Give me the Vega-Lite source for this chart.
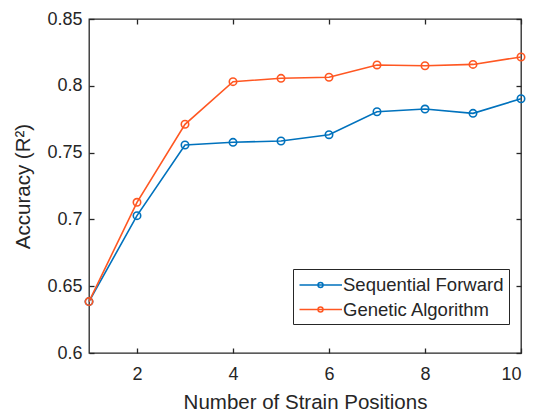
{
  "$schema": "https://vega.github.io/schema/vega-lite/v6.json",
  "width": 432,
  "height": 334,
  "autosize": {"type": "none"},
  "padding": {"left": 89, "top": 19, "right": 12, "bottom": 59},
  "background": "white",
  "config": {
    "font": "Liberation Sans",
    "view": {"stroke": "#262626", "strokeWidth": 1.3},
    "axis": {
      "domain": false,
      "grid": false,
      "tickColor": "#262626",
      "tickWidth": 1.3,
      "tickSize": -5,
      "labelColor": "#262626",
      "labelFont": "Liberation Sans",
      "labelFontSize": 18,
      "titleColor": "#262626",
      "titleFont": "Liberation Sans",
      "titleFontSize": 20.5,
      "titleFontWeight": "normal"
    }
  },
  "data": {
    "values": [
      {"positions": 1, "accuracy": 0.6385, "method": "Sequential Forward"},
      {"positions": 2, "accuracy": 0.7028, "method": "Sequential Forward"},
      {"positions": 3, "accuracy": 0.7557, "method": "Sequential Forward"},
      {"positions": 4, "accuracy": 0.7577, "method": "Sequential Forward"},
      {"positions": 5, "accuracy": 0.7587, "method": "Sequential Forward"},
      {"positions": 6, "accuracy": 0.7634, "method": "Sequential Forward"},
      {"positions": 7, "accuracy": 0.7806, "method": "Sequential Forward"},
      {"positions": 8, "accuracy": 0.7826, "method": "Sequential Forward"},
      {"positions": 9, "accuracy": 0.7794, "method": "Sequential Forward"},
      {"positions": 10, "accuracy": 0.7903, "method": "Sequential Forward"},
      {"positions": 1, "accuracy": 0.6385, "method": "Genetic Algorithm"},
      {"positions": 2, "accuracy": 0.7128, "method": "Genetic Algorithm"},
      {"positions": 3, "accuracy": 0.7712, "method": "Genetic Algorithm"},
      {"positions": 4, "accuracy": 0.8031, "method": "Genetic Algorithm"},
      {"positions": 5, "accuracy": 0.8056, "method": "Genetic Algorithm"},
      {"positions": 6, "accuracy": 0.8064, "method": "Genetic Algorithm"},
      {"positions": 7, "accuracy": 0.8156, "method": "Genetic Algorithm"},
      {"positions": 8, "accuracy": 0.8150, "method": "Genetic Algorithm"},
      {"positions": 9, "accuracy": 0.8160, "method": "Genetic Algorithm"},
      {"positions": 10, "accuracy": 0.8216, "method": "Genetic Algorithm"}
    ]
  },
  "layer": [
    {
      "mark": {"type": "line", "strokeWidth": 1.6},
      "encoding": {
        "x": {
          "field": "positions",
          "type": "quantitative",
          "scale": {"domain": [1, 10], "nice": false},
          "axis": {"orient": "bottom", "values": [2, 4, 6, 8, 10], "labelPadding": 17, "title": "Number of Strain Positions", "titlePadding": 9}
        },
        "y": {
          "field": "accuracy",
          "type": "quantitative",
          "scale": {"domain": [0.6, 0.85], "nice": false, "zero": false},
          "axis": {"orient": "left", "values": [0.6, 0.65, 0.7, 0.75, 0.8, 0.85], "format": ".2~f", "labelPadding": 12, "title": "Accuracy (R²)", "titlePadding": 13}
        },
        "color": {
          "field": "method",
          "type": "nominal",
          "sort": ["Sequential Forward", "Genetic Algorithm"],
          "scale": {"domain": ["Sequential Forward", "Genetic Algorithm"], "range": ["#0072BD", "#FF5722"]},
          "legend": {
            "title": null,
            "orient": "none",
            "legendX": 204,
            "legendY": 250,
            "direction": "vertical",
            "strokeColor": "#262626",
            "fillColor": "white",
            "padding": 5,
            "rowPadding": 3.5,
            "symbolType": "M-0.95,0L3.3,0M1.4,0A0.25,0.25,0,1,1,0.9,0A0.25,0.25,0,1,1,1.4,0",
            "symbolSize": 400,
            "symbolStrokeWidth": 1.5,
            "symbolFillColor": "transparent",
            "labelOffset": 23,
            "labelLimit": 300,
            "labelFontSize": 18.5,
            "labelColor": "#262626",
            "labelFont": "Liberation Sans"
          }
        }
      }
    },
    {
      "mark": {"type": "point", "shape": "circle", "filled": false, "size": 55, "strokeWidth": 1.6, "opacity": 1},
      "encoding": {
        "x": {
          "field": "positions",
          "type": "quantitative",
          "axis": {"orient": "top", "values": [2, 4, 6, 8, 10], "labels": false, "title": null}
        },
        "y": {
          "field": "accuracy",
          "type": "quantitative",
          "axis": {"orient": "right", "values": [0.6, 0.65, 0.7, 0.75, 0.8, 0.85], "labels": false, "title": null}
        },
        "color": {"field": "method", "type": "nominal", "legend": null}
      }
    }
  ],
  "resolve": {"axis": {"x": "independent", "y": "independent"}}
}
